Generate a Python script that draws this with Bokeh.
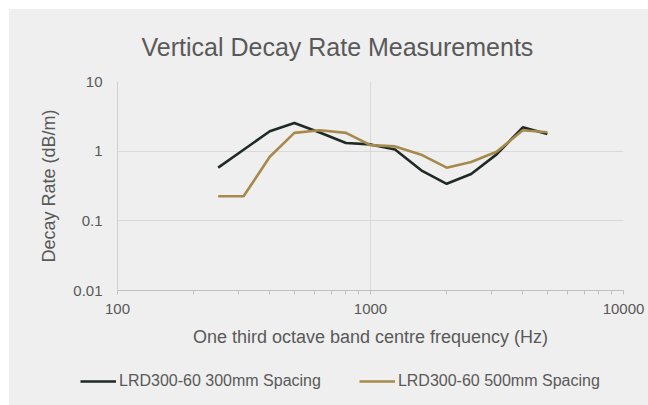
from bokeh.plotting import figure
from bokeh.models import FixedTicker, Legend, LegendItem, Range1d
from bokeh.layouts import column
from bokeh.embed import file_html
from bokeh.resources import INLINE

# Data
freq = [250, 315, 400, 500, 630, 800, 1000, 1250, 1600, 2000, 2500, 3150, 4000, 5000]
spacing_300 = [0.58, 1.05, 1.93, 2.54, 1.85, 1.31, 1.25, 1.06, 0.52, 0.34, 0.47, 0.90, 2.2, 1.77]
spacing_500 = [0.225, 0.225, 0.83, 1.83, 2.0, 1.83, 1.22, 1.17, 0.88, 0.58, 0.70, 0.98, 2.0, 1.87]
series_names = ["LRD300-60 300mm Spacing", "LRD300-60 500mm Spacing"]
series_colors = ["#1f2a25", "#a68a4b"]
x_ticks = [100, 1000, 10000]
x_minor = [200, 300, 400, 500, 600, 700, 800, 900, 2000, 3000, 4000, 5000, 6000, 7000, 8000, 9000]
y_ticks = [0.01, 0.1, 1, 10]
y_labels = ["0.01", "0.1", "1", "10"]

BG = "#efefef"
TXT = "#595959"
FONT = "Liberation Sans"

p = figure(frame_width=506, frame_height=209, x_axis_type="log", y_axis_type="log",
           x_range=(100, 10000), y_range=(0.01, 10),
           output_backend="svg", toolbar_location=None,
           title="Vertical Decay Rate Measurements",
           min_border_left=108, min_border_right=25, min_border_top=72, min_border_bottom=70)

p.background_fill_color = BG
p.border_fill_color = BG
p.outline_line_color = None

p.title.align = "left"
p.title.text_font = FONT
p.title.text_font_size = "25px"
p.title.text_font_style = "normal"
p.title.text_color = TXT
p.title.offset = 24
p.title.standoff = 41

p.line(freq, spacing_300, line_color=series_colors[0], line_width=2.6)
p.line(freq, spacing_500, line_color=series_colors[1], line_width=2.6)

# x axis
xa = p.xaxis[0]
xa.ticker = FixedTicker(ticks=x_ticks, minor_ticks=x_minor)
xa.axis_line_color = "#bfbfbf"
xa.major_tick_line_color = "#bfbfbf"
xa.minor_tick_line_color = "#bfbfbf"
xa.major_tick_out = 4
xa.major_tick_in = 0
xa.minor_tick_out = 4
xa.minor_tick_in = 0
xa.major_label_text_font = FONT
xa.major_label_text_font_size = "15px"
xa.major_label_text_color = TXT
xa.major_label_standoff = 9
xa.major_label_overrides = {100: "100", 1000: "1000", 10000: "10000"}
xa.axis_label = "One third octave band centre frequency (Hz)"
xa.axis_label_text_font = FONT
xa.axis_label_text_font_size = "18px"
xa.axis_label_text_font_style = "normal"
xa.axis_label_text_color = TXT
xa.axis_label_standoff = 10

# y axis
ya = p.yaxis[0]
ya.ticker = FixedTicker(ticks=y_ticks, minor_ticks=[])
ya.axis_line_color = "#d0d0d0"
ya.major_tick_line_color = None
ya.minor_tick_line_color = None
ya.major_tick_out = 0
ya.major_tick_in = 0
ya.minor_tick_out = 0
ya.minor_tick_in = 0
ya.major_label_text_font = FONT
ya.major_label_text_font_size = "15px"
ya.major_label_text_color = TXT
ya.major_label_standoff = 15
ya.major_label_overrides = dict(zip(y_ticks, y_labels))
ya.axis_label = "Decay Rate (dB/m)"
ya.axis_label_text_font = FONT
ya.axis_label_text_font_size = "18px"
ya.axis_label_text_font_style = "normal"
ya.axis_label_text_color = TXT
ya.axis_label_standoff = 11

p.xgrid.ticker = FixedTicker(ticks=x_ticks)
p.ygrid.ticker = FixedTicker(ticks=y_ticks)
p.xgrid.grid_line_color = "#d9d9d9"
p.ygrid.grid_line_color = "#d9d9d9"

# legend strip (separate figure below the chart; series drawn off-range so only legend shows)
leg = figure(frame_width=639, frame_height=45, min_border=0,
             x_range=Range1d(0, 1), y_range=Range1d(0, 1),
             x_axis_location=None, y_axis_location=None,
             output_backend="svg", toolbar_location=None)
leg.background_fill_color = BG
leg.border_fill_color = BG
leg.outline_line_color = None
leg.grid.visible = False
r1 = leg.line(freq, spacing_300, line_color=series_colors[0], line_width=2.6)
r2 = leg.line(freq, spacing_500, line_color=series_colors[1], line_width=2.6)

legend = Legend(items=[LegendItem(label=series_names[0], renderers=[r1]),
                       LegendItem(label=series_names[1], renderers=[r2])],
                orientation="horizontal", location=(71, 15))
legend.background_fill_alpha = 0
legend.border_line_color = None
legend.label_text_font = FONT
legend.label_text_font_size = "16px"
legend.label_text_color = TXT
legend.glyph_width = 36
legend.glyph_height = 18
legend.label_height = 18
legend.label_standoff = 3
legend.spacing = 38
legend.margin = 0
legend.padding = 0
leg.add_layout(legend, "center")

layout = column(p, leg, spacing=0)
layout.margin = (9, 0, 0, 9)
layout.styles = {"background-color": BG}

open("out.html", "w").write(file_html(layout, INLINE))
